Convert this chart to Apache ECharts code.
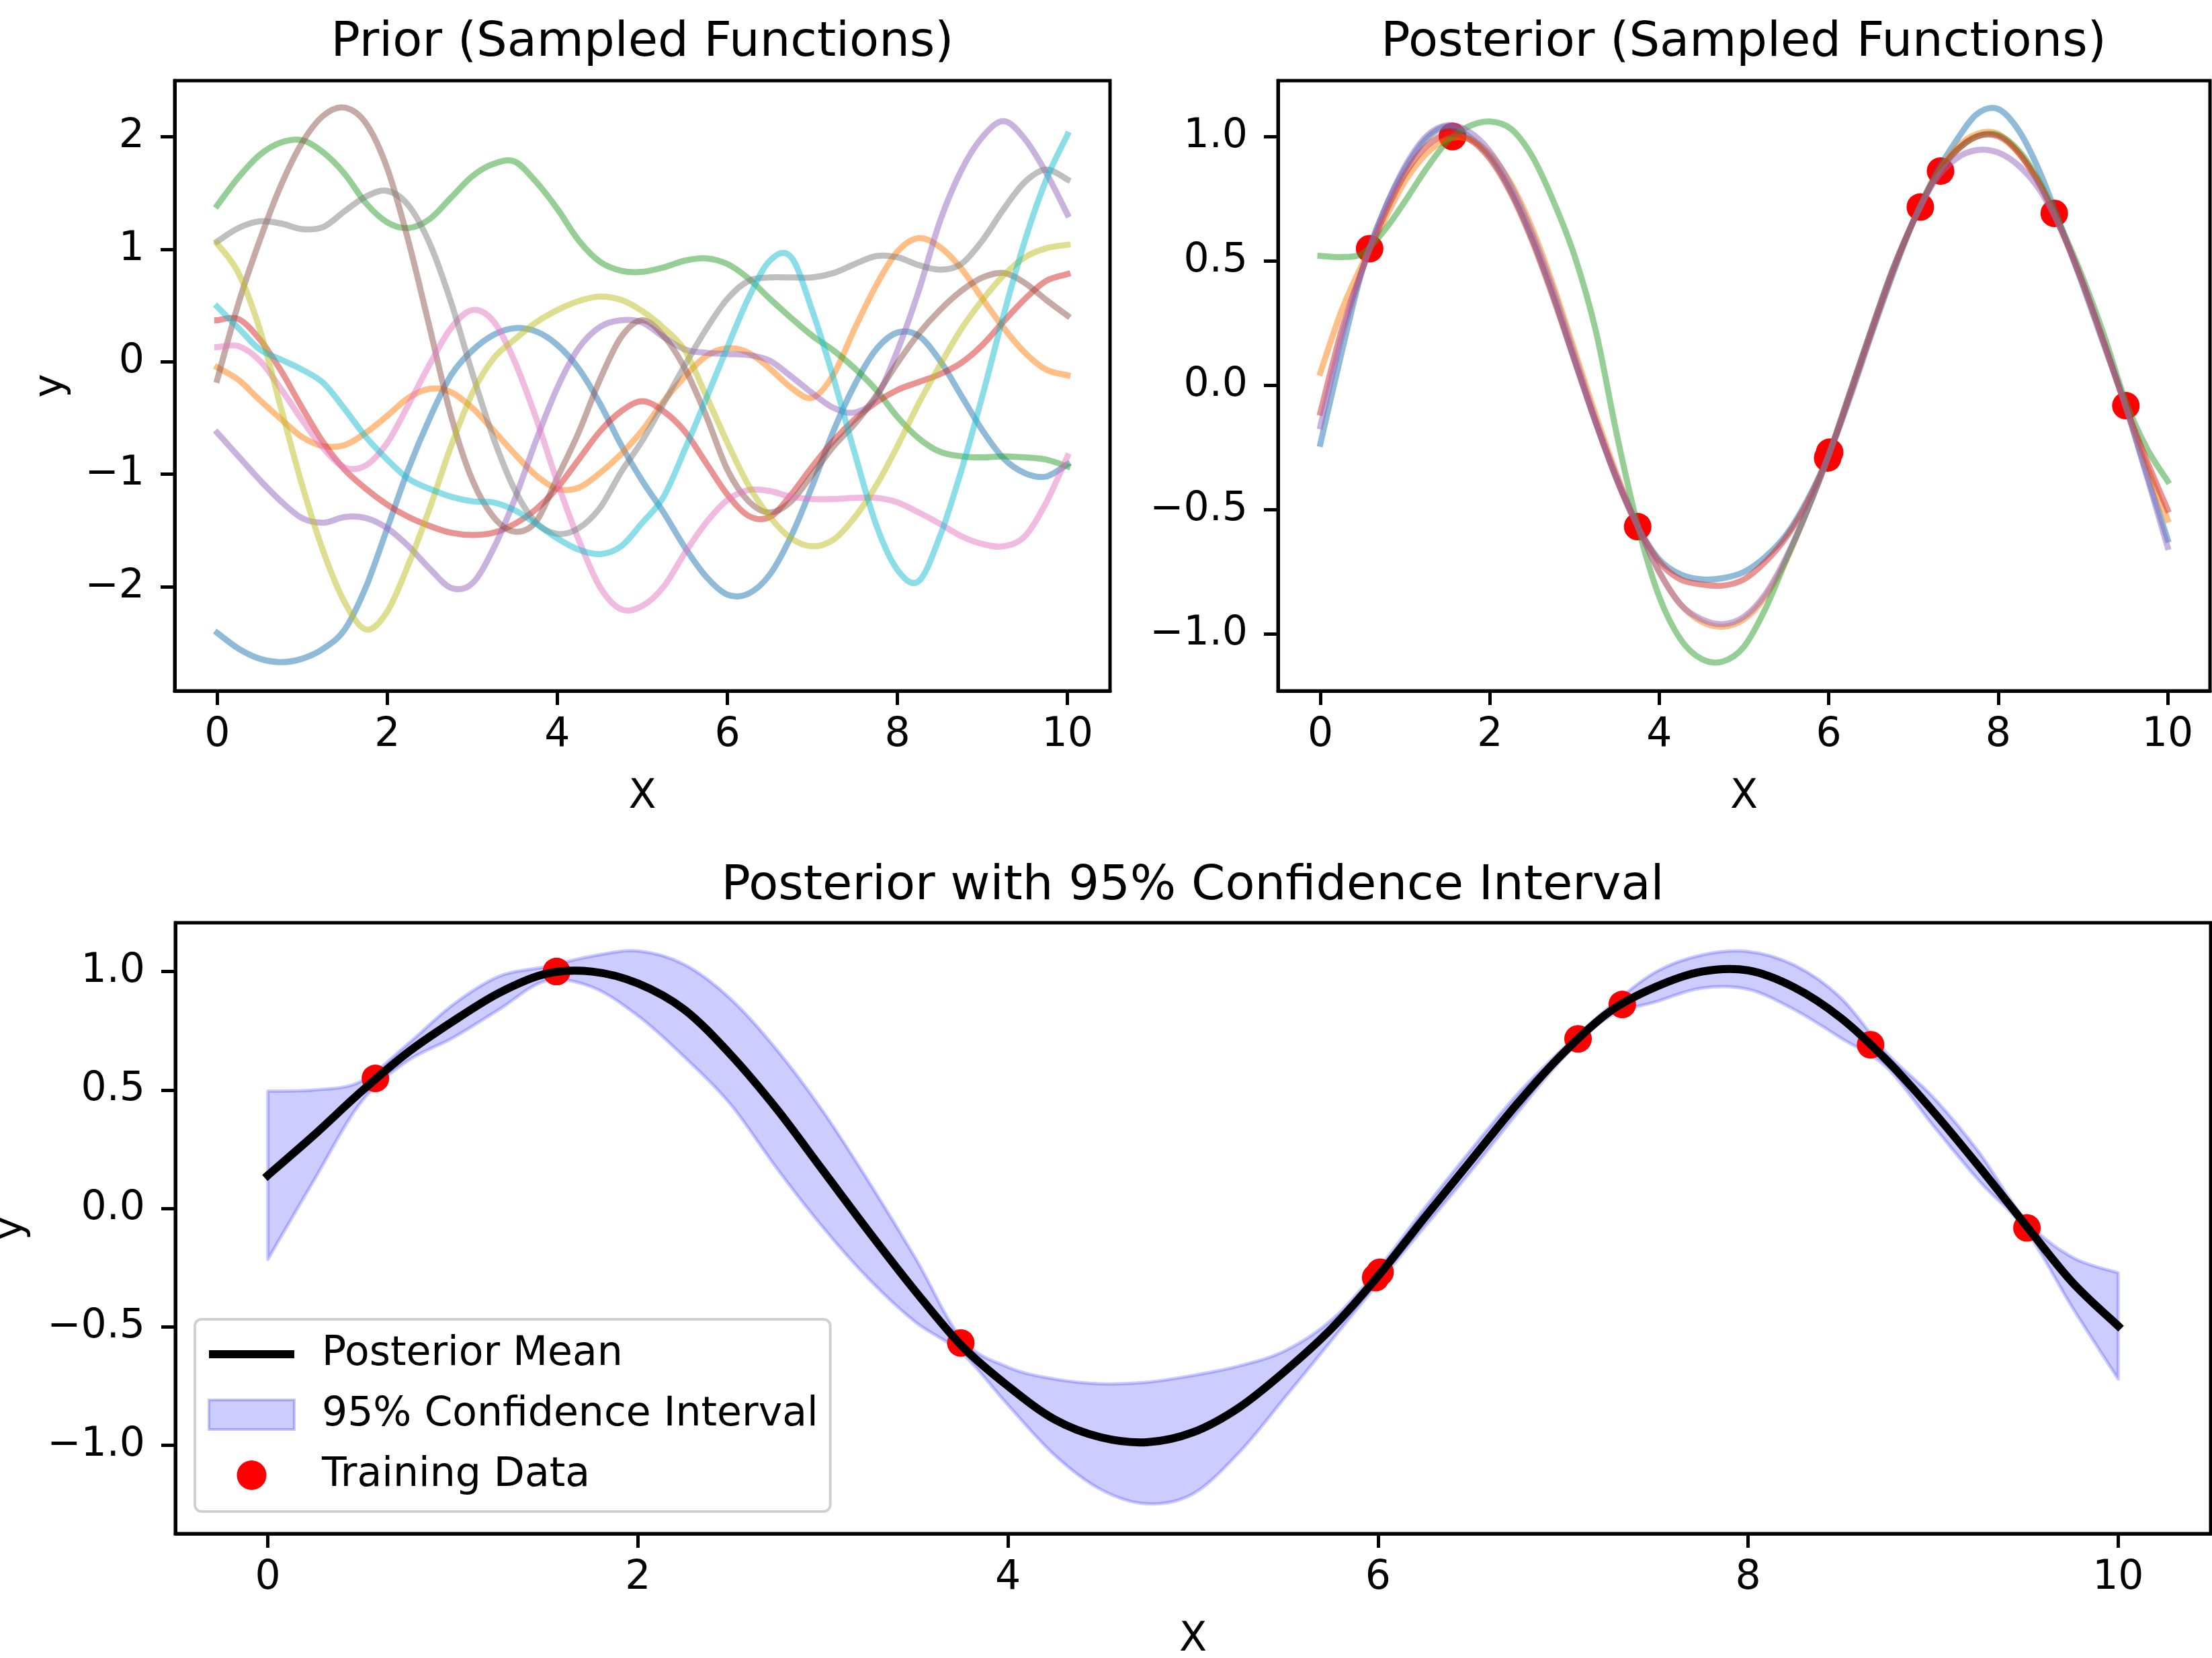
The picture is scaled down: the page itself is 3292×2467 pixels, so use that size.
<!DOCTYPE html>
<html>
<head>
<meta charset="utf-8">
<script src="https://cdn.jsdelivr.net/npm/echarts@6/dist/echarts.min.js"></script>
<style>html,body{margin:0;padding:0;background:#fff}#c{width:3292px;height:2467px}</style>
</head>
<body>
<div id="c"></div>
<script>
// ---------------- data ----------------
const xs = [0,0.25,0.5,0.75,1,1.25,1.5,1.75,2,2.25,2.5,2.75,3,3.25,3.5,3.75,4,4.25,4.5,4.75,5,5.25,5.5,5.75,6,6.25,6.5,6.75,7,7.25,7.5,7.75,8,8.25,8.5,8.75,9,9.25,9.5,9.75,10];

const xTicks = [0,2,4,6,8,10];
const priorYTicks = [-2,-1,0,1,2];
const postYTicks = [-1,-0.5,0,0.5,1];

// prior sampled functions
const priorBlue   = [-2.41,-2.55,-2.64,-2.67,-2.64,-2.55,-2.38,-2.00,-1.48,-0.95,-0.50,-0.12,0.10,0.24,0.30,0.27,0.15,-0.06,-0.37,-0.74,-1.06,-1.34,-1.65,-1.91,-2.07,-2.06,-1.89,-1.55,-1.10,-0.61,-0.20,0.11,0.26,0.23,0.01,-0.30,-0.61,-0.86,-0.99,-1.02,-0.91];
const priorOrange = [-0.05,-0.16,-0.34,-0.51,-0.67,-0.75,-0.74,-0.63,-0.48,-0.32,-0.24,-0.27,-0.41,-0.61,-0.82,-1.01,-1.13,-1.12,-0.99,-0.82,-0.61,-0.35,-0.13,0.05,0.12,0.08,-0.06,-0.23,-0.32,-0.11,0.30,0.68,0.98,1.10,1.02,0.83,0.56,0.30,0.08,-0.07,-0.12];
const priorGreen  = [1.39,1.64,1.84,1.95,1.97,1.86,1.67,1.41,1.24,1.19,1.27,1.46,1.65,1.76,1.78,1.60,1.36,1.08,0.89,0.81,0.80,0.84,0.90,0.92,0.87,0.74,0.56,0.39,0.23,0.10,-0.06,-0.25,-0.49,-0.68,-0.80,-0.84,-0.85,-0.84,-0.85,-0.87,-0.93];
const priorRed    = [0.37,0.38,0.20,-0.08,-0.41,-0.72,-0.96,-1.13,-1.27,-1.38,-1.46,-1.52,-1.54,-1.52,-1.44,-1.31,-1.12,-0.87,-0.62,-0.44,-0.35,-0.44,-0.62,-0.90,-1.18,-1.37,-1.38,-1.18,-0.93,-0.70,-0.51,-0.36,-0.25,-0.18,-0.11,-0.01,0.15,0.36,0.56,0.72,0.78];
const priorPurple = [-0.63,-0.84,-1.05,-1.24,-1.39,-1.43,-1.38,-1.39,-1.48,-1.64,-1.84,-2.01,-1.97,-1.66,-1.22,-0.70,-0.23,0.12,0.31,0.37,0.35,0.22,0.11,0.08,0.07,0.06,0.01,-0.13,-0.28,-0.41,-0.45,-0.32,0.10,0.63,1.25,1.70,2.00,2.14,1.98,1.68,1.31];
const priorBrown  = [-0.16,0.52,1.08,1.57,1.95,2.19,2.26,2.12,1.72,1.07,0.30,-0.48,-1.05,-1.38,-1.51,-1.42,-1.03,-0.63,-0.16,0.22,0.37,0.23,-0.06,-0.48,-0.96,-1.24,-1.34,-1.24,-1.00,-0.75,-0.55,-0.30,-0.01,0.25,0.46,0.63,0.75,0.79,0.70,0.55,0.41];
const priorPink   = [0.13,0.14,0.01,-0.24,-0.52,-0.77,-0.94,-0.92,-0.72,-0.38,-0.02,0.30,0.46,0.36,0.00,-0.50,-1.07,-1.58,-2.00,-2.20,-2.17,-2.00,-1.70,-1.43,-1.23,-1.14,-1.15,-1.20,-1.22,-1.22,-1.21,-1.21,-1.25,-1.34,-1.44,-1.55,-1.62,-1.64,-1.55,-1.25,-0.84];
const priorGray   = [1.07,1.19,1.25,1.23,1.18,1.20,1.34,1.47,1.52,1.39,1.05,0.53,-0.10,-0.68,-1.14,-1.43,-1.53,-1.48,-1.30,-0.98,-0.70,-0.37,-0.03,0.29,0.56,0.72,0.75,0.75,0.75,0.79,0.87,0.94,0.93,0.86,0.82,0.87,1.08,1.36,1.60,1.71,1.62];
const priorOlive  = [1.05,0.79,0.29,-0.41,-1.10,-1.69,-2.14,-2.38,-2.22,-1.80,-1.30,-0.75,-0.28,0.03,0.20,0.35,0.46,0.54,0.58,0.55,0.45,0.30,0.10,-0.30,-0.72,-1.10,-1.38,-1.57,-1.64,-1.58,-1.38,-1.10,-0.75,-0.37,-0.03,0.29,0.55,0.77,0.93,1.01,1.04];
const priorCyan   = [0.49,0.30,0.11,0.02,-0.07,-0.19,-0.42,-0.67,-0.87,-1.04,-1.13,-1.20,-1.24,-1.25,-1.32,-1.44,-1.57,-1.67,-1.71,-1.64,-1.43,-1.20,-0.78,-0.33,0.13,0.57,0.90,0.93,0.45,-0.15,-0.82,-1.45,-1.85,-1.95,-1.55,-0.97,-0.30,0.42,1.08,1.62,2.02];

// posterior sampled functions
const postBlue   = [-0.235,0.13,0.47,0.70,0.87,0.99,1.04,1.00,0.92,0.78,0.59,0.36,0.10,-0.15,-0.38,-0.57,-0.70,-0.76,-0.78,-0.775,-0.75,-0.69,-0.60,-0.46,-0.28,-0.05,0.20,0.44,0.66,0.84,0.98,1.09,1.11,1.02,0.85,0.63,0.40,0.16,-0.08,-0.35,-0.62];
const postOrange = [0.05,0.30,0.49,0.66,0.82,0.93,0.99,0.99,0.93,0.81,0.63,0.40,0.14,-0.12,-0.36,-0.57,-0.75,-0.88,-0.95,-0.97,-0.94,-0.85,-0.70,-0.50,-0.28,-0.03,0.22,0.46,0.66,0.83,0.95,1.01,1.01,0.93,0.80,0.62,0.41,0.17,-0.08,-0.32,-0.54];
const postGreen  = [0.52,0.515,0.53,0.62,0.74,0.87,0.98,1.04,1.06,1.03,0.92,0.74,0.52,0.22,-0.20,-0.57,-0.85,-1.02,-1.10,-1.11,-1.05,-0.90,-0.70,-0.50,-0.28,-0.03,0.22,0.46,0.66,0.83,0.94,1.00,1.005,0.94,0.81,0.63,0.43,0.20,-0.06,-0.25,-0.385];
const postRed    = [-0.11,0.22,0.47,0.68,0.85,0.96,1.01,0.99,0.91,0.77,0.58,0.35,0.10,-0.15,-0.38,-0.57,-0.71,-0.78,-0.80,-0.805,-0.78,-0.71,-0.61,-0.47,-0.28,-0.04,0.21,0.45,0.66,0.83,0.94,1.00,1.00,0.93,0.80,0.62,0.41,0.17,-0.08,-0.30,-0.50];
const postPurple = [-0.165,0.19,0.47,0.70,0.88,1.00,1.045,1.02,0.94,0.80,0.61,0.38,0.12,-0.14,-0.37,-0.57,-0.75,-0.88,-0.94,-0.96,-0.93,-0.84,-0.69,-0.50,-0.28,-0.03,0.22,0.46,0.66,0.82,0.91,0.945,0.935,0.88,0.78,0.62,0.41,0.17,-0.08,-0.36,-0.65];

// posterior mean and 95% interval
const postMean  = [0.14,0.31,0.49,0.655,0.79,0.91,0.99,1.00,0.95,0.84,0.65,0.42,0.16,-0.10,-0.35,-0.58,-0.75,-0.89,-0.966,-0.987,-0.945,-0.84,-0.685,-0.506,-0.286,-0.04,0.20,0.44,0.655,0.83,0.935,1.00,1.005,0.933,0.805,0.625,0.41,0.175,-0.07,-0.31,-0.496];
const ciUpper   = [0.495,0.50,0.535,0.69,0.86,0.98,1.02,1.065,1.087,1.03,0.885,0.67,0.41,0.11,-0.21,-0.55,-0.67,-0.72,-0.74,-0.734,-0.705,-0.665,-0.60,-0.47,-0.256,0.00,0.245,0.48,0.675,0.85,0.998,1.07,1.085,1.027,0.89,0.655,0.47,0.235,-0.05,-0.205,-0.272];
const ciLower   = [-0.215,0.12,0.445,0.62,0.72,0.84,0.96,0.935,0.813,0.64,0.44,0.17,-0.08,-0.30,-0.48,-0.61,-0.83,-1.04,-1.186,-1.247,-1.205,-1.03,-0.795,-0.556,-0.316,-0.08,0.155,0.40,0.635,0.81,0.872,0.93,0.925,0.839,0.72,0.595,0.35,0.115,-0.09,-0.415,-0.72];

// training data
const trainX = [0.581,1.560,1.560,3.745,5.987,6.011,7.081,7.320,8.662,9.507];
const trainY = [0.549,1.000,1.000,-0.568,-0.292,-0.269,0.716,0.861,0.691,-0.082];

// ---------------- chart ----------------
const FONT = 'DejaVu Sans';
const tab10 = ['#1f77b4','#ff7f0e','#2ca02c','#d62728','#9467bd','#8c564b','#e377c2','#7f7f7f','#bcbd22','#17becf'];
const priorCurves = [priorBlue,priorOrange,priorGreen,priorRed,priorPurple,priorBrown,priorPink,priorGray,priorOlive,priorCyan];
const postCurves = [postBlue,postOrange,postGreen,postRed,postPurple];

const fmtInt = v => v < 0 ? '\u2212' + Math.abs(v) : String(v);
const fmt1 = v => v < 0 ? '\u2212' + Math.abs(v).toFixed(1) : v.toFixed(1);
const txt = (size) => ({fontSize:size, fontFamily:FONT, color:'#000', lineHeight:size});

// smooth (Catmull-Rom) path through screen points given by the axes
function smoothPath(pts, start){
  let d = (start || 'M') + pts[0][0] + ',' + pts[0][1];
  const n = pts.length;
  for (let i = 0; i < n - 1; i++){
    const p0 = pts[i > 0 ? i - 1 : i], p1 = pts[i], p2 = pts[i + 1], p3 = pts[i + 2 < n ? i + 2 : i + 1];
    const c1x = p1[0] + (p2[0] - p0[0]) / 6, c1y = p1[1] + (p2[1] - p0[1]) / 6;
    const c2x = p2[0] - (p3[0] - p1[0]) / 6, c2y = p2[1] - (p3[1] - p1[1]) / 6;
    d += 'C' + c1x + ',' + c1y + ',' + c2x + ',' + c2y + ',' + p2[0] + ',' + p2[1];
  }
  return d;
}
function curveSeries(name, arr, ai, color, width, opacity, z){
  return {type:'custom', name:name, xAxisIndex:ai, yAxisIndex:ai, silent:true, z:z,
    data: xs.map((x,i)=>[x, arr[i]]),
    renderItem: function(params, api){
      if (params.dataIndex !== 0) return null;
      const pts = xs.map((x,i)=>api.coord([x, arr[i]]));
      return {type:'path', shape:{pathData: smoothPath(pts)},
        style:{fill:'none', stroke:color, lineWidth:width, opacity:opacity, lineCap:'square', lineJoin:'round'}};
    }};
}

function xAxisCfg(gi){
  return {type:'value', gridIndex:gi, min:-0.5, max:10.5,
    name:'X', nameLocation:'middle', nameGap:128, nameTextStyle:txt(60),
    axisLine:{show:true, onZero:false, lineStyle:{color:'#000', width:5}}, splitLine:{show:false},
    axisTick:{show:true, inside:false, length:21, lineStyle:{color:'#000', width:5}, customValues:xTicks},
    axisLabel:Object.assign({show:true, customValues:xTicks, margin:36, formatter:fmtInt}, txt(60))};
}
function yAxisCfg(gi, min, max, ticks, fmt, name, gap){
  return {type:'value', gridIndex:gi, min:min, max:max,
    name:name, nameLocation:'middle', nameGap:gap, nameRotate:90, nameTextStyle:txt(60),
    axisLine:{show:true, onZero:false, lineStyle:{color:'#000', width:5}}, splitLine:{show:false},
    axisTick:{show:true, inside:false, length:21, lineStyle:{color:'#000', width:5}, customValues:ticks},
    axisLabel:Object.assign({show:true, customValues:ticks, margin:45, formatter:fmt}, txt(60))};
}
const gridBase = {show:true, borderColor:'#000', borderWidth:5, backgroundColor:'transparent', containLabel:false, outerBoundsMode:'none'};

const series = [];
priorCurves.forEach((c,i)=>{ series.push(curveSeries('prior'+i, c, 0, tab10[i], 9, 0.5, 2)); });
series.push({type:'scatter', name:'trainTop', xAxisIndex:1, yAxisIndex:1,
  data:trainX.map((x,i)=>[x,trainY[i]]), symbolSize:41, itemStyle:{color:'#ff0000', opacity:1}, silent:true, z:1});
postCurves.forEach((c,i)=>{ series.push(curveSeries('post'+i, c, 1, tab10[i], 9, 0.5, 2)); });

// 95% interval band
series.push({type:'custom', name:'95% Confidence Interval', xAxisIndex:2, yAxisIndex:2, silent:true, z:1,
  data: xs.map((x,i)=>[x, ciLower[i], ciUpper[i]]), encode:{x:0, y:[1,2]},
  itemStyle:{color:'rgba(0,0,255,0.2)'},
  renderItem: function(params, api){
    if (params.dataIndex !== 0) return null;
    const up = xs.map((x,i)=>api.coord([x, ciUpper[i]]));
    const lo = xs.map((x,i)=>api.coord([x, ciLower[i]])).reverse();
    const d = smoothPath(up) + smoothPath(lo, 'L') + 'Z';
    return {type:'path', shape:{pathData:d},
      style:{fill:'rgba(0,0,255,0.2)', stroke:'rgba(0,0,255,0.2)', lineWidth:5, lineJoin:'round'}};
  }});
series.push({type:'scatter', name:'Training Data', xAxisIndex:2, yAxisIndex:2,
  data:trainX.map((x,i)=>[x,trainY[i]]), symbolSize:41, itemStyle:{color:'#ff0000', opacity:1}, silent:true, z:2});
const meanSeries = curveSeries('Posterior Mean', postMean, 2, '#000', 12, 1, 3);
meanSeries.itemStyle = {color:'#000'};
series.push(meanSeries);

const titleStyle = {fontSize:72, fontWeight:'normal', fontFamily:FONT, color:'#000', lineHeight:72};
const option = {
  animation:false,
  backgroundColor:'#ffffff',
  title:[
    {text:'Prior (Sampled Functions)', left:956, top:28, textAlign:'center', padding:0, textStyle:titleStyle},
    {text:'Posterior (Sampled Functions)', left:2595, top:28, textAlign:'center', padding:0, textStyle:titleStyle},
    {text:'Posterior with 95% Confidence Interval', left:1775, top:1283, textAlign:'center', padding:0, textStyle:titleStyle}
  ],
  grid:[
    Object.assign({left:260, top:120, width:1392, height:908}, gridBase),
    Object.assign({left:1902, top:120, width:1387, height:908}, gridBase),
    Object.assign({left:261, top:1373, width:3029, height:909}, gridBase)
  ],
  xAxis:[xAxisCfg(0), xAxisCfg(1), xAxisCfg(2)],
  yAxis:[
    yAxisCfg(0, -2.926, 2.50, priorYTicks, fmtInt, 'y', 154),
    yAxisCfg(1, -1.228, 1.224, postYTicks, fmt1, '', 0),
    yAxisCfg(2, -1.373, 1.206, postYTicks, fmt1, 'y', 215)
  ],
  legend:{
    orient:'vertical', left:290, top:1963,
    itemWidth:127, itemHeight:44, itemGap:30,
    padding:[22,18,24,19],
    backgroundColor:'rgba(255,255,255,0.8)', borderColor:'#d0d0d0', borderWidth:4, borderRadius:10,
    selectedMode:false,
    textStyle:{fontSize:60, fontFamily:FONT, color:'#000', lineHeight:60, padding:[0,0,0,36]},
    data:[
      {name:'Posterior Mean', icon:'path://M0,0L127,0L127,12L0,12Z', itemStyle:{color:'#000', borderWidth:0}},
      {name:'95% Confidence Interval', icon:'rect', itemStyle:{color:'rgba(0,0,255,0.2)', borderColor:'rgba(0,0,255,0.22)', borderWidth:4}},
      {name:'Training Data', icon:'circle', itemStyle:{color:'#ff0000', borderWidth:0, opacity:1}}
    ]
  },
  series:series
};
const chart = echarts.init(document.getElementById('c'), null, {renderer:'canvas', width:3292, height:2467});
chart.setOption(option);
</script>
</body>
</html>
